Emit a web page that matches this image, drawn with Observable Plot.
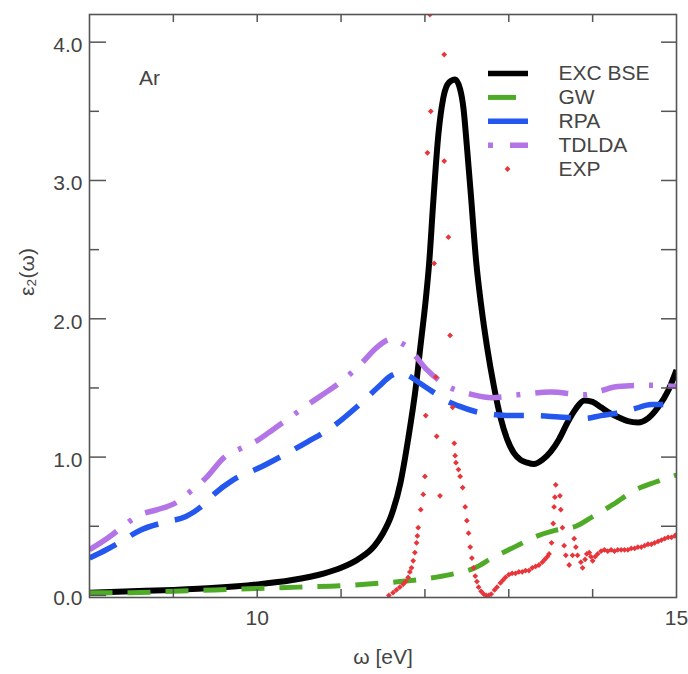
<!DOCTYPE html>
<html><head><meta charset="utf-8">
<script src="https://cdn.jsdelivr.net/npm/d3@7"></script>
<script src="https://cdn.jsdelivr.net/npm/@observablehq/plot@0.6"></script>
<style>body{margin:0;background:#fff;} #chart{width:688px;height:674px;}</style>
</head><body><div id="chart"></div>
<script>
// ---- data ----
const seriesNames = ["EXC BSE", "GW", "RPA", "TDLDA", "EXP"];

const bseOmega = [8.0,8.5,9.0,9.5,10.0,10.4,10.8,11.0,11.2,11.4,11.5,11.6,11.71,11.8,11.89,11.95,12.01,12.05,12.1,12.16,12.22,12.29,12.36,12.42,12.46,12.5,12.55,12.61,12.67,12.74,12.82,12.9,12.98,13.06,13.14,13.22,13.3,13.4,13.5,13.6,13.7,13.8,13.9,14.0,14.1,14.2,14.3,14.42,14.54,14.66,14.78,14.9,15.0];
const bseEps   = [0.02,0.03,0.04,0.055,0.08,0.11,0.16,0.2,0.26,0.36,0.45,0.58,0.82,1.13,1.5,1.82,2.14,2.4,2.85,3.33,3.6,3.71,3.73,3.66,3.52,3.25,2.88,2.42,2.1,1.8,1.52,1.29,1.13,1.03,0.98,0.96,0.95,0.98,1.04,1.13,1.25,1.35,1.41,1.40,1.36,1.32,1.29,1.26,1.25,1.28,1.36,1.48,1.63];

const gwOmega = [8.0,8.5,9.0,9.5,10.0,10.5,11.0,11.5,12.0,12.3,12.6,12.8,13.1,13.3,13.55,13.8,14.0,14.25,14.5,14.75,15.0];
const gwEps   = [0.02,0.02,0.03,0.04,0.05,0.06,0.07,0.09,0.12,0.15,0.2,0.27,0.36,0.42,0.47,0.5,0.57,0.66,0.76,0.82,0.87];

const rpaOmega = [8.0,8.2,8.35,8.6,8.9,9.15,9.35,9.5,9.7,10.05,10.3,10.6,10.9,11.2,11.45,11.6,11.7,11.8,11.95,12.1,12.25,12.4,12.6,12.8,13.0,13.3,13.6,13.9,14.1,14.3,14.5,14.7,14.85,15.0];
const rpaEps   = [0.27,0.33,0.38,0.47,0.53,0.57,0.65,0.74,0.83,0.93,1.01,1.11,1.22,1.37,1.51,1.59,1.61,1.59,1.53,1.47,1.41,1.37,1.33,1.31,1.30,1.30,1.29,1.28,1.30,1.32,1.35,1.38,1.38,1.36];

const tdldaOmega = [8.0,8.23,8.4,8.59,8.81,9.03,9.2,9.39,9.61,9.83,10.0,10.19,10.42,10.63,10.8,10.99,11.23,11.44,11.59,11.7,11.8,12.01,12.25,12.58,12.8,13.1,13.5,13.9,14.1,14.3,14.7,15.0];
const tdldaEps   = [0.33,0.42,0.50,0.58,0.62,0.67,0.75,0.85,1.0,1.07,1.12,1.20,1.30,1.39,1.46,1.54,1.67,1.80,1.85,1.83,1.79,1.64,1.52,1.45,1.43,1.45,1.47,1.45,1.48,1.51,1.52,1.51];

const expOmega = [11.57,11.62,11.66,11.70,11.74,11.77,11.80,11.82,11.84,11.86,11.88,11.90,11.91,11.92,11.95,11.98,12.00,12.01,12.03,12.06,12.07,12.11,12.13,12.14,12.18,12.23,12.23,12.28,12.30,12.33,12.35,12.36,12.37,12.40,12.42,12.45,12.48,12.50,12.52,12.54,12.56,12.58,12.60,12.62,12.64,12.67,12.70,12.73,12.76,12.79,12.83,12.86,12.90,12.93,12.96,13.00,13.04,13.08,13.12,13.16,13.20,13.24,13.28,13.32,13.36,13.40,13.43,13.46,13.48,13.51,13.53,13.54,13.55,13.56,13.61,13.62,13.64,13.66,13.68,13.72,13.76,13.78,13.80,13.82,13.86,13.88,13.91,13.93,13.96,13.98,14.00,14.03,14.06,14.10,14.14,14.18,14.22,14.26,14.30,14.34,14.38,14.42,14.46,14.50,14.54,14.58,14.62,14.66,14.70,14.74,14.78,14.82,14.86,14.90,14.94,14.98,15.00];
const expEps   = [0.00,0.02,0.04,0.06,0.08,0.10,0.13,0.17,0.20,0.25,0.31,0.38,0.43,0.49,0.62,0.73,0.86,1.30,3.20,4.20,3.50,2.40,1.58,1.15,0.72,3.91,3.14,2.59,1.88,1.36,1.10,1.01,0.96,0.91,0.86,0.78,0.64,0.54,0.45,0.35,0.27,0.20,0.14,0.10,0.06,0.03,0.01,0.00,0.00,0.01,0.04,0.06,0.09,0.11,0.13,0.15,0.16,0.16,0.17,0.17,0.18,0.18,0.20,0.21,0.22,0.24,0.26,0.28,0.30,0.38,0.52,0.64,0.71,0.80,0.72,0.62,0.49,0.36,0.29,0.22,0.29,0.41,0.35,0.29,0.24,0.20,0.26,0.30,0.31,0.28,0.25,0.28,0.30,0.32,0.33,0.32,0.33,0.32,0.33,0.33,0.33,0.33,0.34,0.34,0.35,0.35,0.36,0.37,0.37,0.38,0.39,0.40,0.41,0.42,0.42,0.43,0.44];

const xLabelTicks = [10, 15];
const xMinorTicks = [9, 10, 11, 12, 13, 14];
const yLabelTicks = [0, 1, 2, 3, 4];
const yMinorTicks = [0.5, 1.5, 2.5, 3.5];
const yRightTicks = [0.5, 1, 1.5, 2, 2.5, 3, 3.5, 4];

const xTitle = "ω [eV]";
const yTitle = "ε₂(ω)";
const panelTag = "Ar";

// ---- styles ----
const colors = {bse: "#000000", gw: "#4fab27", rpa: "#2457ee", tdlda: "#b274e6", exp: "#e8353a"};
const axisColor = "#555";
const textColor = "#444";
const font = "'Liberation Sans', Arial, Helvetica, sans-serif";

const rows = (w, e) => w.map((x, i) => ({x, y: e[i]}));
const bse = rows(bseOmega, bseEps);
const gw = rows(gwOmega, gwEps);
const rpa = rows(rpaOmega, rpaEps);
const tdlda = rows(tdldaOmega, tdldaEps);
const exp = rows(expOmega, expEps);

const W = 688, H = 674, mL = 89, mR = 12, mT = 14, mB = 77;
const fw = W - mL - mR, fh = H - mT - mB;

// legend geometry in data units
const legX1 = 12.758, legX2 = 13.235, legXMid = 12.985, legTextX = 13.593;
const legY = seriesNames.map((n, i) => ({name: n, y: 3.773 - i * 0.1725}));

const lineOpts = {x: "x", y: "y", curve: "monotone-x", strokeWidth: 5.5, strokeLinecap: "butt", strokeLinejoin: "round", clip: true};

const chart = Plot.plot({
  width: W, height: H,
  marginLeft: mL, marginRight: mR, marginTop: mT, marginBottom: mB,
  x: {domain: [8, 15]},
  y: {domain: [-0.015, 4.2]},
  style: {fontFamily: font, fontSize: "21px", color: textColor, background: "#fff"},
  marks: [
    // data
    Plot.line(bse, {...lineOpts, stroke: colors.bse, strokeWidth: 6}),
    Plot.line(gw, {...lineOpts, stroke: colors.gw, strokeWidth: 5, strokeDasharray: "23,15"}),
    Plot.line(rpa, {...lineOpts, stroke: colors.rpa, strokeDasharray: "30,17"}),
    Plot.line(tdlda, {...lineOpts, stroke: colors.tdlda, strokeDasharray: "33,15,4,15"}),
    Plot.dot(exp, {x: "x", y: "y", symbol: "diamond2", r: 2.6, fill: colors.exp, stroke: null, clip: true}),
    // frame & ticks
    Plot.frame({stroke: axisColor, strokeWidth: 1.6}),
    Plot.tickX(xMinorTicks, {x: d => d, insetTop: fh - 8, stroke: axisColor, strokeWidth: 1.5}),
    Plot.tickX(xMinorTicks, {x: d => d, insetBottom: fh - 8, stroke: axisColor, strokeWidth: 1.5}),
    Plot.tickY(yLabelTicks, {y: d => d, insetRight: fw - 17, stroke: axisColor, strokeWidth: 1.5}),
    Plot.tickY(yMinorTicks, {y: d => d, insetRight: fw - 10, stroke: axisColor, strokeWidth: 1.5}),
    Plot.tickY(yRightTicks, {y: d => d, insetLeft: fw - 15, stroke: axisColor, strokeWidth: 1.5}),
    Plot.axisX({ticks: xLabelTicks, tickSize: 0, tickPadding: 13, tickFormat: d3.format("d"), label: null, fill: textColor}),
    Plot.axisY({ticks: yLabelTicks, tickSize: 0, tickPadding: 7, tickFormat: d3.format(".1f"), label: null, dy: 3, fill: textColor}),
    // titles
    Plot.text([xTitle], {text: d => d, frameAnchor: "bottom", dy: 66, fill: textColor, fontSize: 21}),
    Plot.text([yTitle], {text: d => d, frameAnchor: "left", dx: -62, dy: -10, rotate: -90, fill: textColor, fontSize: 21}),
    Plot.text([panelTag], {text: d => d, x: 8.716, y: 3.737, fill: textColor, fontSize: 21}),
    // legend
    Plot.ruleY([legY[0]], {y: "y", x1: legX1, x2: legX2, stroke: colors.bse, strokeWidth: 5.5}),
    Plot.ruleY([legY[1]], {y: "y", x1: legX1, x2: legX2, stroke: colors.gw, strokeWidth: 5, strokeDasharray: "28,200"}),
    Plot.ruleY([legY[2]], {y: "y", x1: legX1, x2: legX2, stroke: colors.rpa, strokeWidth: 5.5}),
    Plot.ruleY([legY[3]], {y: "y", x1: legX1, x2: legX2, stroke: colors.tdlda, strokeWidth: 5.5, strokeDasharray: "5,17,18,200"}),
    Plot.dot([legY[4]], {y: "y", x: legXMid, symbol: "diamond2", r: 2.6, fill: colors.exp}),
    Plot.text(legY, {x: legTextX, y: "y", text: "name", textAnchor: "start", fill: textColor, fontSize: 21})
  ]
});
document.getElementById("chart").append(chart);
</script>
</body></html>
